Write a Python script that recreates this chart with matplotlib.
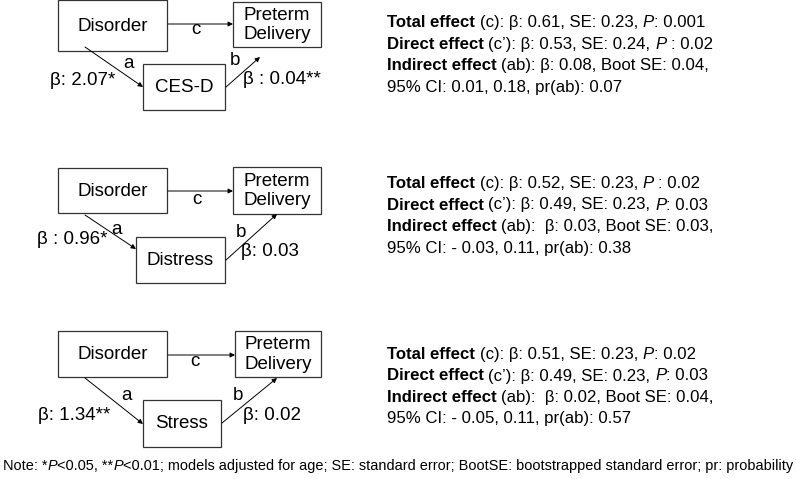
import matplotlib
matplotlib.use("Agg")
import matplotlib.pyplot as plt
from matplotlib.patches import Rectangle

# --- diagram content -------------------------------------------------------
exposure = "Disorder"
outcome = "Preterm\nDelivery"
mediators = ["CES-D", "Distress", "Stress"]
a_labels = ["β: 2.07*", "β : 0.96*", "β: 1.34**"]
b_labels = ["β : 0.04**", "β: 0.03", "β: 0.02"]

total_beta = ["0.61", "0.52", "0.51"]
total_se = ["0.23", "0.23", "0.23"]
total_p = [": 0.001", " : 0.02", ": 0.02"]
direct_beta = ["0.53", "0.49", "0.49"]
direct_se = ["0.24", "0.23", "0.23"]
direct_p = [" : 0.02", ": 0.03", ": 0.03"]
indirect_beta = ["0.08", "0.03", "0.02"]
boot_se = ["0.04", "0.03", "0.04"]
ci_low = ["0.01", "- 0.03", "- 0.05"]
ci_high = ["0.18", "0.11", "0.11"]
pr_ab = ["0.07", "0.38", "0.57"]

note = ("Note: *", ("P",), "<0.05, **", ("P",),
        "<0.01; models adjusted for age; SE: standard error; "
        "BootSE: bootstrapped standard error; pr: probability")

# --- layout (pixels) -------------------------------------------------------
# boxes: (x0, y0, x1, y1)
disorder_box = [(58, 0, 167, 51), (58, 168, 167, 213), (58, 331, 167, 377)]
outcome_box = [(233, 2, 321, 47), (233, 167, 321, 214), (235, 331, 321, 377)]
mediator_box = [(143, 64, 225, 110), (136, 237, 225, 283), (143, 400, 221, 447)]
c_arrow = [((168, 24), (233, 24)), ((168, 191), (233, 191)), ((168, 355), (235, 355))]
a_arrow = [((85, 47), (143, 87)), ((85, 215), (136, 249)), ((85, 378), (143, 424))]
b_arrow = [((226, 87), (260, 57)), ((226, 260), (277, 214)), ((222, 423), (277, 378))]
c_pos = [(196, 29), (197, 200), (195, 361)]
a_pos = [(128, 63), (117, 229), (126, 395)]
b_pos = [(235, 60), (241, 232), (238, 395)]
a_lab_pos = [(50, 80), (37, 239), (38, 415)]
b_lab_pos = [(243, 79), (241, 252), (243, 415)]
text_x = 387
text_y0 = [27, 188, 359]
line_gap = 21.5

W, H = 796, 479
fig = plt.figure(figsize=(W / 100, H / 100), dpi=100)
ax = fig.add_axes([0, 0, 1, 1])
ax.set_xlim(0, W)
ax.set_ylim(H, 0)
ax.axis("off")
renderer = fig.canvas.get_renderer()

FAM = ["Liberation Sans", "DejaVu Sans"]
NARROW = ["Liberation Sans Narrow", "Liberation Sans", "DejaVu Sans"]
diag_size = 13.5
eff_size = 12.1


def text_w(s, size, weight, style, family):
    t = ax.text(0, 0, s, fontsize=size, fontweight=weight, fontstyle=style, family=family)
    w = t.get_window_extent(renderer).width
    t.remove()
    return w


def put_runs(x, y, runs, size, family=FAM):
    for run in runs:
        s, weight, style = run
        sp = text_w("a a", size, weight, style, family) - text_w("aa", size, weight, style, family)
        lead = len(s) - len(s.lstrip(" "))
        trail = len(s) - len(s.rstrip(" "))
        x += lead * sp
        t = ax.text(x, y, s.strip(" "), fontsize=size, fontweight=weight,
                    fontstyle=style, family=family, va="baseline", ha="left")
        bb = t.get_window_extent(renderer)
        x = bb.x1 + trail * sp


def box(b, label):
    x0, y0, x1, y1 = b
    ax.add_patch(Rectangle((x0, y0), x1 - x0, y1 - y0, fill=False,
                           edgecolor="#333333", lw=0.9))
    ax.text((x0 + x1) / 2, (y0 + y1) / 2 + 0.5, label, ha="center", va="center",
            fontsize=diag_size, family=FAM, linespacing=1.2)


def arrow(p0, p1):
    ax.annotate("", xy=p1, xytext=p0,
                arrowprops=dict(arrowstyle="-|>", lw=0.7, color="black",
                                mutation_scale=7, shrinkA=0, shrinkB=0))


R, B, I = "normal", "bold", "italic"
for i in range(3):
    box(disorder_box[i], exposure)
    box(outcome_box[i], outcome)
    box(mediator_box[i], mediators[i])
    arrow(*c_arrow[i])
    arrow(*a_arrow[i])
    arrow(*b_arrow[i])
    for lab, pos in zip("cab", (c_pos[i], a_pos[i], b_pos[i])):
        ax.text(pos[0], pos[1], lab, ha="center", va="center",
                fontsize=diag_size, family=FAM)
    ax.text(*a_lab_pos[i], a_labels[i], ha="left", va="center",
            fontsize=diag_size, family=FAM)
    ax.text(*b_lab_pos[i], b_labels[i], ha="left", va="center",
            fontsize=diag_size, family=FAM)

    gap = "  " if i > 0 else " "
    lines = [
        [("Total effect", B, R),
         (f" (c): β: {total_beta[i]}, SE: {total_se[i]}, ", R, R),
         ("P", R, I), (total_p[i], R, R)],
        [("Direct effect", B, R),
         (f" (c’): β: {direct_beta[i]}, SE: {direct_se[i]}, ", R, R),
         ("P", R, I), (direct_p[i], R, R)],
        [("Indirect effect", B, R),
         (f" (ab):{gap}β: {indirect_beta[i]}, Boot SE: {boot_se[i]},", R, R)],
        [(f"95% CI: {ci_low[i]}, {ci_high[i]}, pr(ab): {pr_ab[i]}", R, R)],
    ]
    for k, runs in enumerate(lines):
        put_runs(text_x, text_y0[i] + k * line_gap, runs, eff_size)

note_runs = [(s[0], R, I) if isinstance(s, tuple) else (s, R, R) for s in note]
put_runs(3, 470, note_runs, 10.45, NARROW)

fig.savefig("out.png", dpi=100)
